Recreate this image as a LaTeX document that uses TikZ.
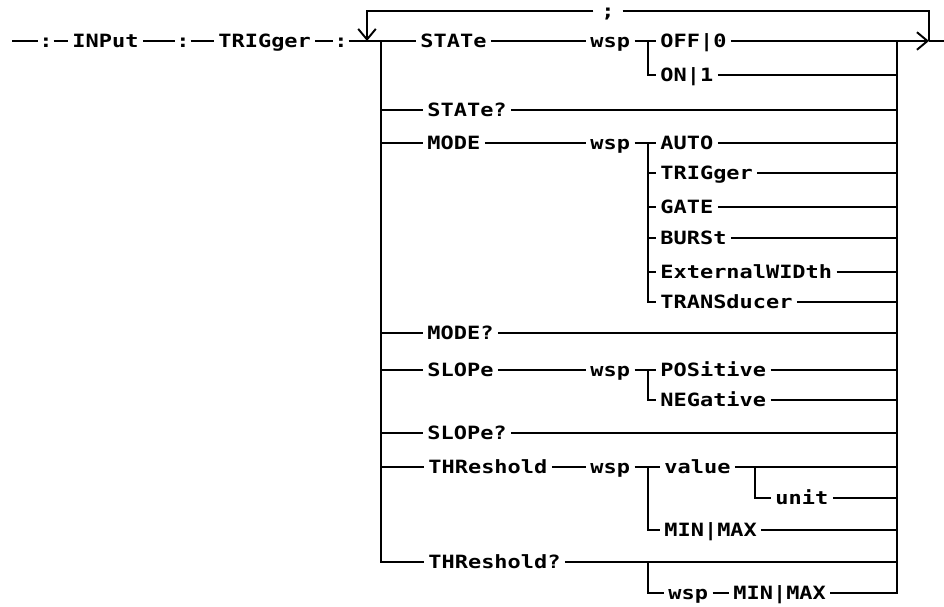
\documentclass[tikz,border=0pt]{standalone}
\usepackage{fontspec}
\usepackage{tikz}
\usetikzlibrary{arrows.meta}
\newfontfamily\plotfont{DejaVu Sans Mono}[FakeStretch=1.2]

\begin{document}
\begin{tikzpicture}[x=0.02cm,y=-0.02cm,line width=1.1pt,
  kw/.style={anchor=west,inner xsep=2pt,inner ysep=0pt,text height=7.6pt,text depth=0pt,
    font=\plotfont\bfseries\fontsize{10.4}{11}\selectfont},
  sep/.style={kw,anchor=center,inner xsep=0pt},
  barb/.style={-{Straight Barb[length=6pt,width=10pt]}}]
\useasboundingbox (0,0) rectangle (944,607);
\coordinate (start) at (12,41);
\coordinate (back) at (367,41);
\coordinate (lbus) at (381,41);
\coordinate (rbus) at (897,41);
\coordinate (tip) at (929,41);
\coordinate (exit) at (944,41);
\coordinate (bra) at (648,41);
\coordinate (brb) at (648,143);
\coordinate (brc) at (648,370);
\coordinate (brd) at (648,467);
\coordinate (brv) at (755,467);
\coordinate (bre) at (648,562);

\node[sep] (c1) at (46,41) {:};
\node[kw] (inp) at (68,41) {INPut};
\node[sep] (c2) at (183,41) {:};
\node[kw] (trig) at (214,41) {TRIGger};
\node[sep] (c3) at (341,41) {:};
\node[sep,inner xsep=4pt] (semi) at (608,11) {;};
\draw (start) -- (c1);
\draw (c1) -- (inp);
\draw (inp) -- (c2);
\draw (c2) -- (trig);
\draw (trig) -- (c3);
\draw[barb] (semi.west) -| (back);
\draw (semi.east) -| (tip);

\node[kw] (state) at (416,41) {STATe};
\node[kw] (wspa) at (586,41) {wsp};
\node[kw] (off) at (656,41) {OFF|0};
\node[kw] (on) at (656,75) {ON|1};
\draw (c3) -- (state);
\draw (state) -- (wspa);
\draw (wspa) -- (off);
\draw (bra) |- (on);
\draw[barb] (off) -- (tip);
\draw (tip) -- (exit);
\draw (on) -- (on -| rbus);

\node[kw] (stateq) at (423,110) {STATe?};
\draw (lbus) |- (stateq);
\draw (stateq) -- (stateq -| rbus);

\node[kw] (mode) at (423,143) {MODE};
\node[kw] (wspb) at (586,143) {wsp};
\node[kw] (auto) at (656,143) {AUTO};
\node[kw] (mtrig) at (656,173) {TRIGger};
\node[kw] (gate) at (656,207) {GATE};
\node[kw] (burst) at (656,238) {BURSt};
\node[kw] (extw) at (656,272) {ExternalWIDth};
\node[kw] (trans) at (656,302) {TRANSducer};
\draw (lbus) |- (mode);
\draw (mode) -- (wspb);
\draw (wspb) -- (auto);
\draw (brb) |- (mtrig);
\draw (brb) |- (gate);
\draw (brb) |- (burst);
\draw (brb) |- (extw);
\draw (brb) |- (trans);
\draw (auto) -- (auto -| rbus);
\draw (mtrig) -- (mtrig -| rbus);
\draw (gate) -- (gate -| rbus);
\draw (burst) -- (burst -| rbus);
\draw (extw) -- (extw -| rbus);
\draw (trans) -- (trans -| rbus);

\node[kw] (modeq) at (423,333) {MODE?};
\draw (lbus) |- (modeq);
\draw (modeq) -- (modeq -| rbus);

\node[kw] (slope) at (423,370) {SLOPe};
\node[kw] (wspc) at (586,370) {wsp};
\node[kw] (pos) at (656,370) {POSitive};
\node[kw] (neg) at (656,400) {NEGative};
\draw (lbus) |- (slope);
\draw (slope) -- (wspc);
\draw (wspc) -- (pos);
\draw (brc) |- (neg);
\draw (pos) -- (pos -| rbus);
\draw (neg) -- (neg -| rbus);

\node[kw] (slopeq) at (423,433) {SLOPe?};
\draw (lbus) |- (slopeq);
\draw (slopeq) -- (slopeq -| rbus);

\node[kw] (thr) at (424,467) {THReshold};
\node[kw] (wspd) at (586,467) {wsp};
\node[kw] (val) at (660,467) {value};
\node[kw] (unit) at (771,498) {unit};
\node[kw] (mmd) at (660,530) {MIN|MAX};
\draw (lbus) |- (thr);
\draw (thr) -- (wspd);
\draw (wspd) -- (val);
\draw (brd) |- (mmd);
\draw (val) -- (val -| rbus);
\draw (brv) |- (unit);
\draw (unit) -- (unit -| rbus);
\draw (mmd) -- (mmd -| rbus);

\node[kw] (thrq) at (424,562) {THReshold?};
\node[kw] (wspe) at (664,593) {wsp};
\node[kw] (mme) at (729,593) {MIN|MAX};
\draw (lbus) |- (thrq);
\draw (thrq) -- (thrq -| rbus);
\draw (bre) |- (wspe);
\draw (wspe) -- (mme);
\draw (mme) -| (rbus);
\end{tikzpicture}
\end{document}
